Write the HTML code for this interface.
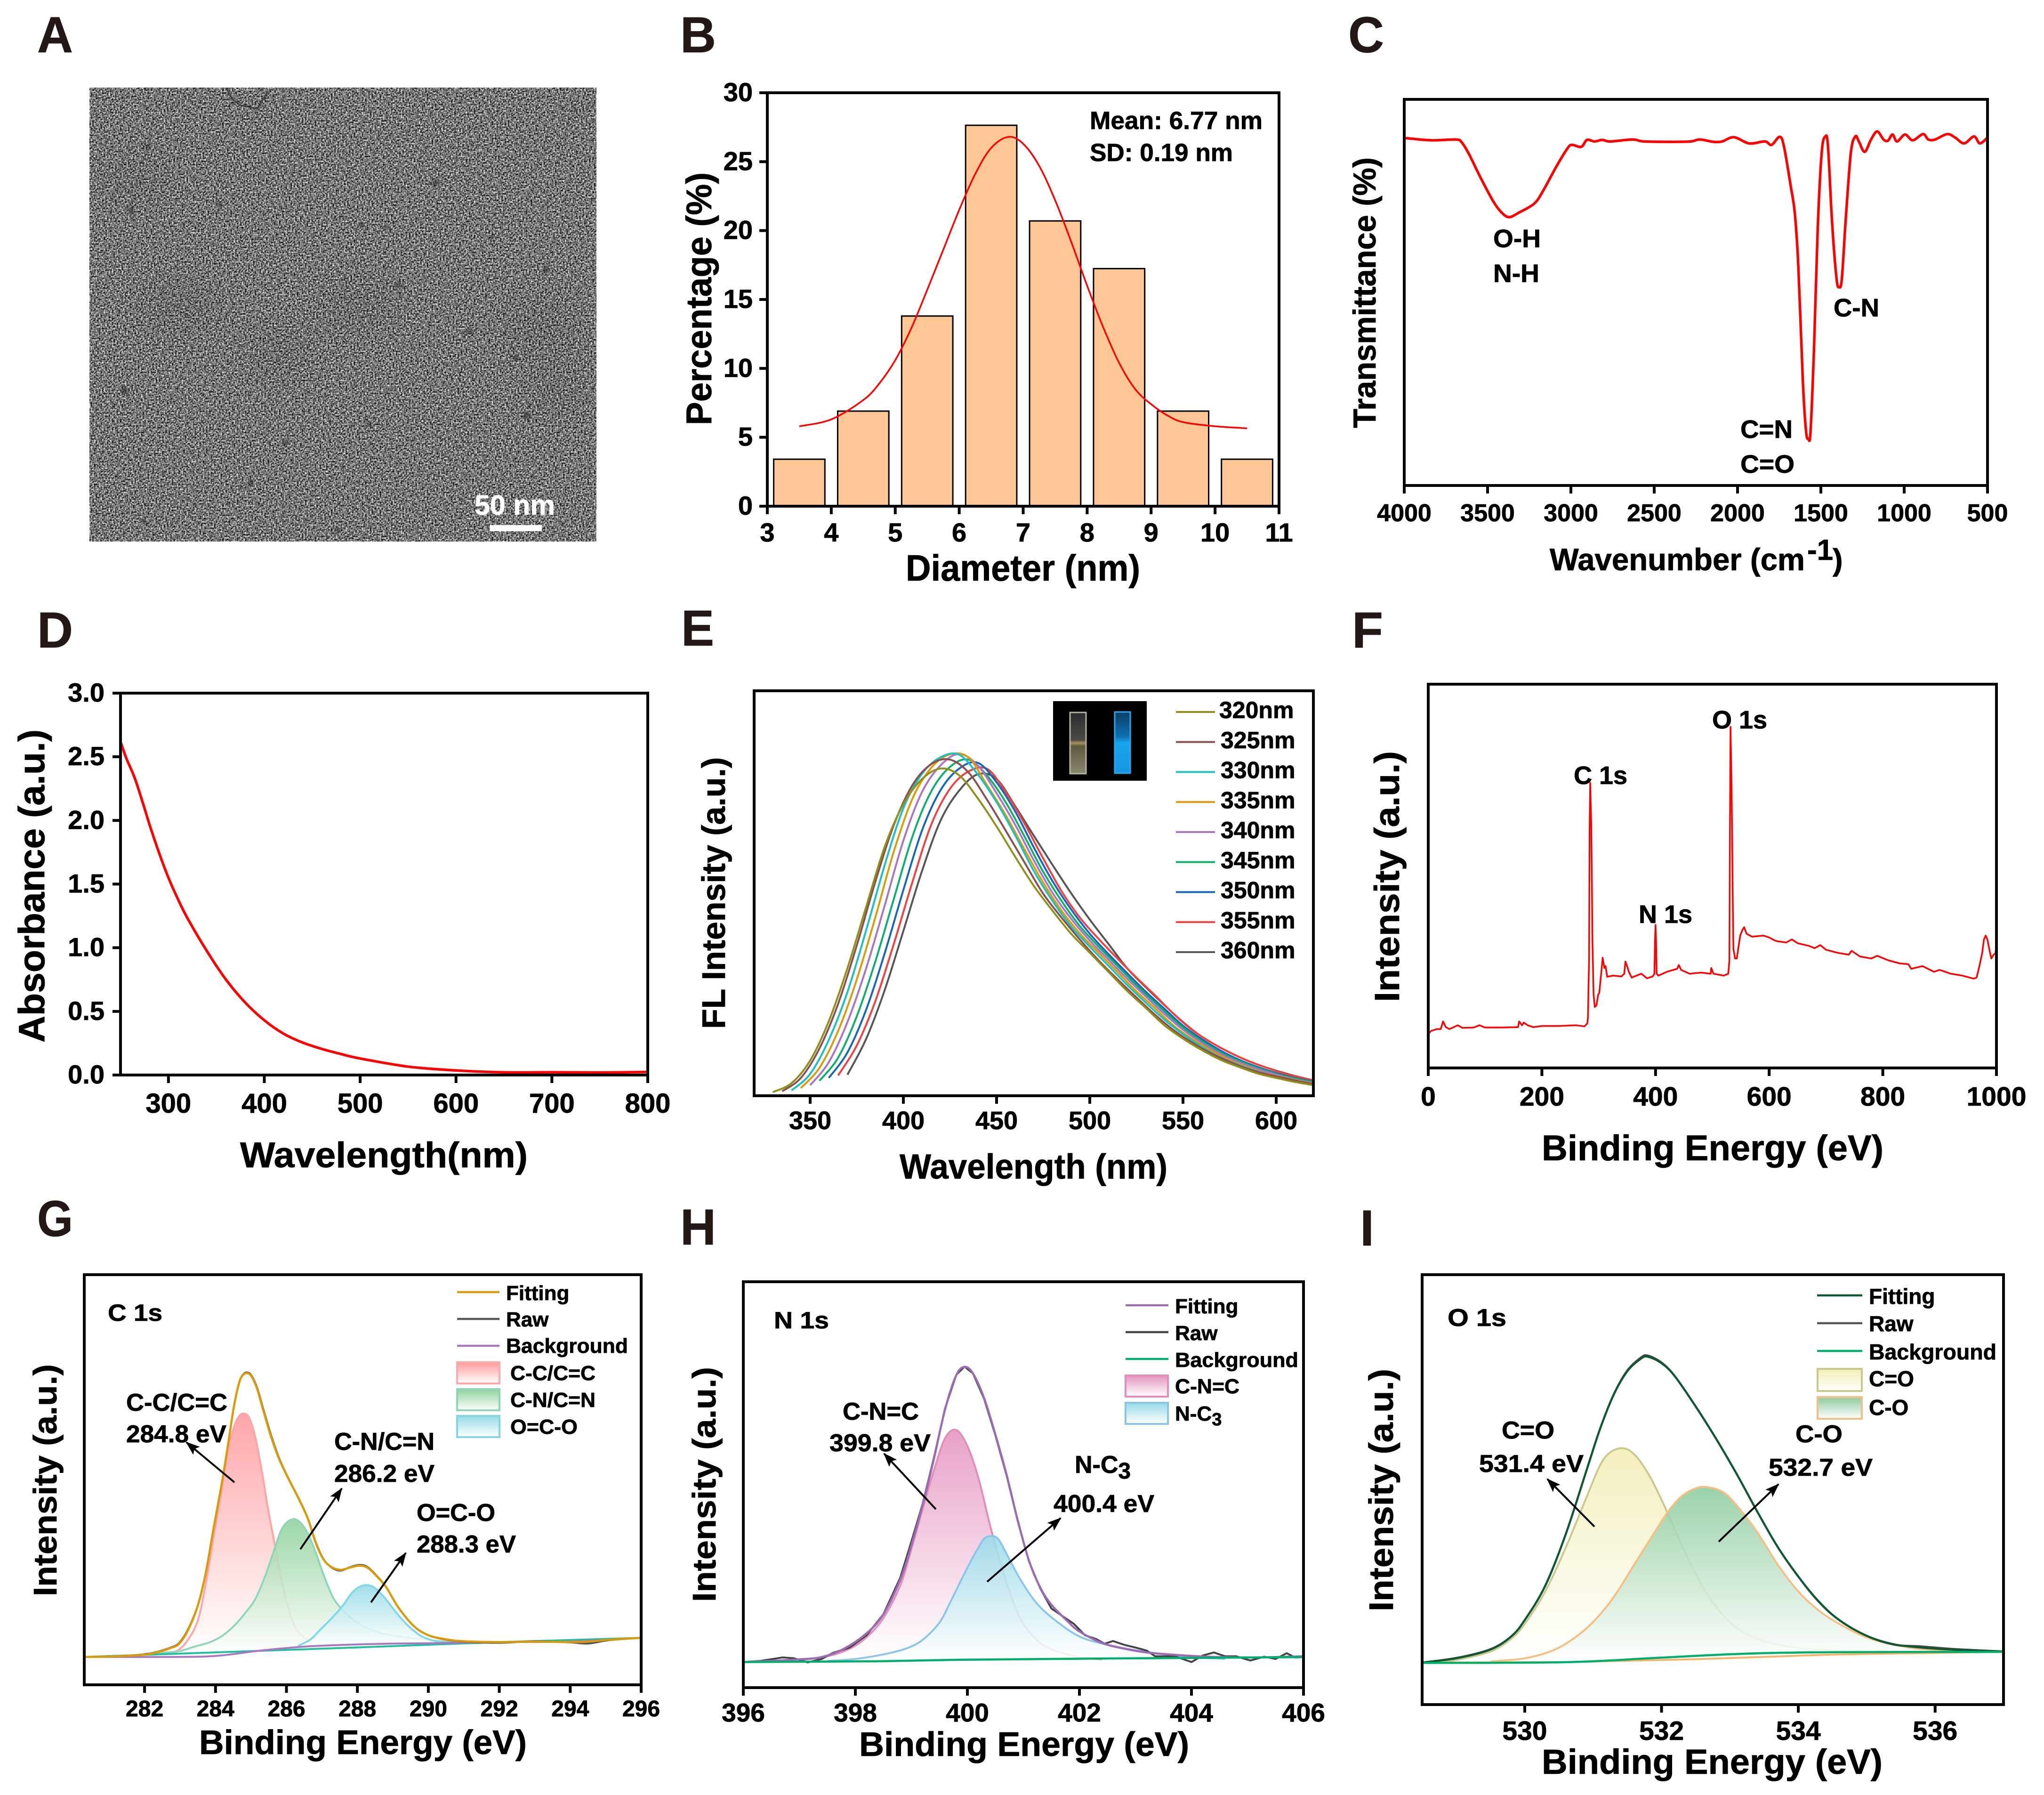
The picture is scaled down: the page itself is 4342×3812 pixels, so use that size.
<!DOCTYPE html>
<html lang="en">
<head>
<meta charset="utf-8">
<title>Carbon dot characterisation figure</title>
<style>
html,body{margin:0;padding:0;background:#fff}
svg{display:block}
text{font-family:"Liberation Sans",sans-serif;font-weight:bold;fill:#000;stroke:#000;stroke-width:.8}
text.panel-letter{font-size:108px;fill:#231815;stroke:#231815}
text.on-image{fill:#fff;stroke:#fff}
.frame{fill:none;stroke:#000;stroke-width:6}
.legend-line{stroke-width:4.5;fill:none}
.swatch{stroke-width:4}
.arrow-line{stroke:#000;stroke-width:4;marker-end:url(#arrow)}
</style>
</head>
<body>
<svg id="figure" xmlns="http://www.w3.org/2000/svg" width="4342" height="3812" viewBox="0 0 4342 3812">
<defs>
<marker id="arrow" markerUnits="userSpaceOnUse" markerWidth="30" markerHeight="24" refX="28" refY="12" orient="auto"><path d="M0 1L30 12L0 23L6 12Z" fill="#000"/></marker>
<filter id="tem-noise" x="0" y="0" width="100%" height="100%" color-interpolation-filters="sRGB">
<feTurbulence type="fractalNoise" baseFrequency="0.29" numOctaves="2" seed="4"/>
<feColorMatrix type="matrix" values="1.6 0 0 0 -0.34  1.6 0 0 0 -0.34  1.6 0 0 0 -0.34  0 0 0 0 1"/>
</filter>
<filter id="soft"><feGaussianBlur stdDeviation="2.5"/></filter>
<filter id="softer"><feGaussianBlur stdDeviation="30"/></filter>
<clipPath id="clip-e"><rect x="1602" y="1467" width="1188" height="860"/></clipPath>
<clipPath id="clip-a"><rect x="190" y="186" width="1077" height="964"/></clipPath>
<linearGradient id="g-red" x1="0" y1="0" x2="0" y2="1"><stop offset="0" stop-color="#FF9A9E"/><stop offset="1" stop-color="#fff"/></linearGradient>
<linearGradient id="g-green" x1="0" y1="0" x2="0" y2="1"><stop offset="0" stop-color="#8ED19A"/><stop offset="1" stop-color="#fff"/></linearGradient>
<linearGradient id="g-cyan" x1="0" y1="0" x2="0" y2="1"><stop offset="0" stop-color="#97DBE8"/><stop offset="1" stop-color="#fff"/></linearGradient>
<linearGradient id="g-pink" x1="0" y1="0" x2="0" y2="1"><stop offset="0" stop-color="#E594BF"/><stop offset="1" stop-color="#fff"/></linearGradient>
<linearGradient id="g-yellow" x1="0" y1="0" x2="0" y2="1"><stop offset="0" stop-color="#F2EDB5"/><stop offset="1" stop-color="#fff"/></linearGradient>
<linearGradient id="g-emerald" x1="0" y1="0" x2="0" y2="1"><stop offset="0" stop-color="#8CCB9E"/><stop offset="1" stop-color="#fff"/></linearGradient>
<linearGradient id="cuvette-blue" x1="0" y1="0" x2="0" y2="1"><stop offset="0" stop-color="#0B3E66"/><stop offset=".4" stop-color="#0E6FB0"/><stop offset=".5" stop-color="#19A3EE"/><stop offset="1" stop-color="#1796E0"/></linearGradient>
<linearGradient id="cuvette-clear" x1="0" y1="0" x2="0" y2="1"><stop offset="0" stop-color="#2C2C2C"/><stop offset=".45" stop-color="#4A4A44"/><stop offset=".5" stop-color="#A8925A"/><stop offset=".55" stop-color="#5C5A3E"/><stop offset="1" stop-color="#8C8770"/></linearGradient>
</defs>

<!-- Panel A: TEM micrograph -->
<g>
<text class="panel-letter" x="79" y="111" textLength="76" lengthAdjust="spacingAndGlyphs">A</text>
<rect x="190" y="186" width="1077" height="964" fill="#777" filter="url(#tem-noise)"/>
<g fill="#000" opacity=".06" filter="url(#softer)" clip-path="url(#clip-a)">
<ellipse cx="380" cy="650" rx="80" ry="60"/><ellipse cx="590" cy="750" rx="70" ry="50"/><ellipse cx="760" cy="650" rx="80" ry="50"/><ellipse cx="1150" cy="700" rx="80" ry="60"/><ellipse cx="290" cy="380" rx="70" ry="40"/><ellipse cx="1180" cy="830" rx="60" ry="50"/>
</g>
<g fill="#222" filter="url(#soft)" opacity=".5">
<circle cx="314" cy="312" r="6"/><circle cx="467" cy="435" r="6"/><circle cx="279" cy="447" r="7"/><circle cx="769" cy="478" r="6"/><circle cx="818" cy="482" r="5"/><circle cx="846" cy="606" r="7"/><circle cx="999" cy="703" r="7"/><circle cx="1160" cy="573" r="7"/><circle cx="925" cy="387" r="7"/><circle cx="784" cy="901" r="6"/><circle cx="532" cy="1027" r="6"/><circle cx="606" cy="940" r="6"/><circle cx="1096" cy="760" r="6"/><circle cx="1045" cy="502" r="5"/><circle cx="1222" cy="236" r="5"/><circle cx="1119" cy="883" r="8"/><circle cx="264" cy="830" r="8"/><circle cx="305" cy="1106" r="5"/><circle cx="717" cy="1126" r="6"/>
</g>
<path d="M481 188L495 212L509 223L546 231L569 194" fill="none" stroke="#333" stroke-width="3.5" opacity=".8"/>
<text class="on-image" x="1008" y="1093" font-size="59" textLength="171" lengthAdjust="spacingAndGlyphs">50 nm</text>
<rect x="1040" y="1115" width="111" height="13" fill="#fff"/>
</g>

<!-- Panel B -->
<g>
<text class="panel-letter" x="1445" y="111" textLength="76" lengthAdjust="spacingAndGlyphs">B</text>
<g id="b-marks"></g>
<rect class="frame" x="1630" y="197" width="1087" height="878"/>
<g id="b-axes"></g>
<text x="2315" y="274" font-size="53" textLength="367" lengthAdjust="spacingAndGlyphs">Mean: 6.77 nm</text>
<text x="2315" y="342" font-size="53" textLength="304" lengthAdjust="spacingAndGlyphs">SD: 0.19 nm</text>
<text x="1924" y="1233" font-size="78" textLength="498" lengthAdjust="spacingAndGlyphs">Diameter (nm)</text>
<text transform="translate(1511,903) rotate(-90)" font-size="76" textLength="537" lengthAdjust="spacingAndGlyphs">Percentage (%)</text>
</g>

<!-- Panel C -->
<g>
<text class="panel-letter" x="2864" y="111" textLength="76" lengthAdjust="spacingAndGlyphs">C</text>
<g id="c-marks"></g>
<rect class="frame" x="2983" y="211" width="1239" height="820"/>
<g id="c-axes"></g>
<text x="3172" y="525" font-size="54" textLength="101" lengthAdjust="spacingAndGlyphs">O-H</text>
<text x="3172" y="599" font-size="54" textLength="98" lengthAdjust="spacingAndGlyphs">N-H</text>
<text x="3895" y="672" font-size="54" textLength="97" lengthAdjust="spacingAndGlyphs">C-N</text>
<text x="3697" y="930" font-size="54" textLength="111" lengthAdjust="spacingAndGlyphs">C=N</text>
<text x="3697" y="1004" font-size="54" textLength="115" lengthAdjust="spacingAndGlyphs">C=O</text>
<text x="3292" y="1211" font-size="66" textLength="542" lengthAdjust="spacingAndGlyphs">Wavenumber (cm</text>
<text x="3839" y="1189" font-size="62">-1</text>
<text x="3893" y="1211" font-size="65">)</text>
<text transform="translate(2922,909) rotate(-90)" font-size="68" textLength="575" lengthAdjust="spacingAndGlyphs">Transmittance (%)</text>
</g>

<!-- Panel D -->
<g>
<text class="panel-letter" x="79" y="1375" textLength="76" lengthAdjust="spacingAndGlyphs">D</text>
<g id="d-marks"></g>
<rect class="frame" x="256" y="1472" width="1120" height="811"/>
<g id="d-axes"></g>
<text x="510" y="2479" font-size="76" textLength="611" lengthAdjust="spacingAndGlyphs">Wavelength(nm)</text>
<text transform="translate(94,2214) rotate(-90)" font-size="78" textLength="665" lengthAdjust="spacingAndGlyphs">Absorbance (a.u.)</text>
</g>

<!-- Panel E -->
<g>
<text class="panel-letter" x="1447" y="1371" textLength="70" lengthAdjust="spacingAndGlyphs">E</text>
<g id="e-marks" clip-path="url(#clip-e)"></g>
<rect class="frame" x="1602" y="1467" width="1188" height="860"/>
<g id="e-axes"></g>
<g>
<rect x="2237" y="1489" width="199" height="169" fill="#000"/>
<rect x="2273" y="1513" width="34" height="130" fill="url(#cuvette-clear)" stroke="#B9B2A2" stroke-width="3"/>
<rect x="2368" y="1512" width="33" height="130" fill="url(#cuvette-blue)" stroke="#2AA8E8" stroke-width="3"/>
</g>
<g id="e-legend"></g>
<text x="1911" y="2503" font-size="74" textLength="569" lengthAdjust="spacingAndGlyphs">Wavelength (nm)</text>
<text transform="translate(1540,2185) rotate(-90)" font-size="70" textLength="577" lengthAdjust="spacingAndGlyphs">FL Intensity (a.u.)</text>
</g>

<!-- Panel F -->
<g>
<text class="panel-letter" x="2872" y="1375" textLength="66" lengthAdjust="spacingAndGlyphs">F</text>
<g id="f-marks"></g>
<rect class="frame" x="3034" y="1453" width="1207" height="815"/>
<g id="f-axes"></g>
<text x="3343" y="1665" font-size="54" textLength="114" lengthAdjust="spacingAndGlyphs">C 1s</text>
<text x="3637" y="1547" font-size="54" textLength="117" lengthAdjust="spacingAndGlyphs">O 1s</text>
<text x="3481" y="1960" font-size="54" textLength="114" lengthAdjust="spacingAndGlyphs">N 1s</text>
<text x="3275" y="2464" font-size="76" textLength="726" lengthAdjust="spacingAndGlyphs">Binding Energy (eV)</text>
<text transform="translate(2972,2128) rotate(-90)" font-size="74" textLength="533" lengthAdjust="spacingAndGlyphs">Intensity (a.u.)</text>
</g>

<!-- Panel G -->
<g>
<text class="panel-letter" x="79" y="2625" textLength="76" lengthAdjust="spacingAndGlyphs">G</text>
<g id="g-marks"></g>
<rect class="frame" x="179" y="2707" width="1183" height="871"/>
<g id="g-axes"></g>
<text x="229" y="2805" font-size="50" textLength="116" lengthAdjust="spacingAndGlyphs">C 1s</text>
<g>
<line class="legend-line" x1="971" y1="2744" x2="1061" y2="2744" stroke="#D99A0B"/>
<text x="1075" y="2761" font-size="44">Fitting</text>
<line class="legend-line" x1="971" y1="2801" x2="1061" y2="2801" stroke="#555"/>
<text x="1075" y="2817" font-size="44">Raw</text>
<line class="legend-line" x1="971" y1="2858" x2="1061" y2="2858" stroke="#A877C4"/>
<text x="1075" y="2873" font-size="44" textLength="259" lengthAdjust="spacingAndGlyphs">Background</text>
<rect class="swatch" x="971" y="2893" width="90" height="45" fill="url(#g-red)" stroke="#FFA9A9"/>
<text x="1084" y="2931" font-size="44" textLength="181" lengthAdjust="spacingAndGlyphs">C-C/C=C</text>
<rect class="swatch" x="971" y="2950" width="90" height="45" fill="url(#g-green)" stroke="#8FD6B8"/>
<text x="1084" y="2988" font-size="44" textLength="181" lengthAdjust="spacingAndGlyphs">C-N/C=N</text>
<rect class="swatch" x="971" y="3007" width="90" height="45" fill="url(#g-cyan)" stroke="#7FD8E4"/>
<text x="1084" y="3045" font-size="44" textLength="143" lengthAdjust="spacingAndGlyphs">O=C-O</text>
</g>
<text x="268" y="2996" font-size="52" textLength="215" lengthAdjust="spacingAndGlyphs">C-C/C=C</text>
<text x="268" y="3063" font-size="52" textLength="213" lengthAdjust="spacingAndGlyphs">284.8 eV</text>
<text x="710" y="3079" font-size="52" textLength="213" lengthAdjust="spacingAndGlyphs">C-N/C=N</text>
<text x="710" y="3147" font-size="52" textLength="213" lengthAdjust="spacingAndGlyphs">286.2 eV</text>
<text x="885" y="3230" font-size="52" textLength="167" lengthAdjust="spacingAndGlyphs">O=C-O</text>
<text x="885" y="3297" font-size="52" textLength="211" lengthAdjust="spacingAndGlyphs">288.3 eV</text>
<line class="arrow-line" x1="498" y1="3148" x2="396" y2="3063"/>
<line class="arrow-line" x1="638" y1="3290" x2="726" y2="3161"/>
<line class="arrow-line" x1="788" y1="3403" x2="862" y2="3298"/>
<text x="423" y="3725" font-size="72" textLength="696" lengthAdjust="spacingAndGlyphs">Binding Energy (eV)</text>
<text transform="translate(120,3390) rotate(-90)" font-size="70" textLength="493" lengthAdjust="spacingAndGlyphs">Intensity (a.u.)</text>
</g>

<!-- Panel H -->
<g>
<text class="panel-letter" x="1445" y="2643" textLength="76" lengthAdjust="spacingAndGlyphs">H</text>
<g id="h-marks"></g>
<rect class="frame" x="1579" y="2722" width="1190" height="862"/>
<g id="h-axes"></g>
<text x="1644" y="2821" font-size="50" textLength="117" lengthAdjust="spacingAndGlyphs">N 1s</text>
<g>
<line class="legend-line" x1="2391" y1="2772" x2="2482" y2="2772" stroke="#9C6BB5"/>
<text x="2496" y="2789" font-size="44">Fitting</text>
<line class="legend-line" x1="2391" y1="2829" x2="2482" y2="2829" stroke="#444"/>
<text x="2496" y="2846" font-size="44">Raw</text>
<line class="legend-line" x1="2391" y1="2886" x2="2482" y2="2886" stroke="#00AE6C"/>
<text x="2496" y="2903" font-size="44" textLength="262" lengthAdjust="spacingAndGlyphs">Background</text>
<rect class="swatch" x="2391" y="2921" width="90" height="45" fill="url(#g-pink)" stroke="#E28DBB"/>
<text x="2496" y="2959" font-size="44" textLength="137" lengthAdjust="spacingAndGlyphs">C-N=C</text>
<rect class="swatch" x="2391" y="2979" width="90" height="45" fill="url(#g-cyan)" stroke="#8CC4EA"/>
<text x="2496" y="3017" font-size="44">N-C<tspan dy="10" font-size="38">3</tspan></text>
</g>
<text x="1790" y="3015" font-size="52" textLength="162" lengthAdjust="spacingAndGlyphs">C-N=C</text>
<text x="1762" y="3082" font-size="52" textLength="215" lengthAdjust="spacingAndGlyphs">399.8 eV</text>
<text x="2283" y="3128" font-size="52">N-C<tspan dy="12" font-size="48">3</tspan></text>
<text x="2238" y="3211" font-size="52" textLength="214" lengthAdjust="spacingAndGlyphs">400.4 eV</text>
<line class="arrow-line" x1="1988" y1="3205" x2="1878" y2="3087"/>
<line class="arrow-line" x1="2097" y1="3359" x2="2253" y2="3224"/>
<text x="1825" y="3729" font-size="72" textLength="701" lengthAdjust="spacingAndGlyphs">Binding Energy (eV)</text>
<text transform="translate(1520,3402) rotate(-90)" font-size="70" textLength="499" lengthAdjust="spacingAndGlyphs">Intensity (a.u.)</text>
</g>

<!-- Panel I -->
<g>
<text class="panel-letter" x="2889" y="2645" textLength="30" lengthAdjust="spacingAndGlyphs">I</text>
<g id="i-marks"></g>
<rect class="frame" x="3021" y="2707" width="1235" height="913"/>
<g id="i-axes"></g>
<text x="3075" y="2816" font-size="52" textLength="125" lengthAdjust="spacingAndGlyphs">O 1s</text>
<g>
<line class="legend-line" x1="3860" y1="2751" x2="3956" y2="2751" stroke="#0B5A32"/>
<text x="3970" y="2769" font-size="46">Fitting</text>
<line class="legend-line" x1="3860" y1="2810" x2="3956" y2="2810" stroke="#555"/>
<text x="3970" y="2827" font-size="46">Raw</text>
<line class="legend-line" x1="3860" y1="2869" x2="3956" y2="2869" stroke="#00AE6C"/>
<text x="3970" y="2887" font-size="46" textLength="271" lengthAdjust="spacingAndGlyphs">Background</text>
<rect class="swatch" x="3861" y="2907" width="94" height="47" fill="url(#g-yellow)" stroke="#CBC88E"/>
<text x="3970" y="2944" font-size="46">C=O</text>
<rect class="swatch" x="3861" y="2967" width="94" height="46" fill="url(#g-emerald)" stroke="#F6BE83"/>
<text x="3970" y="3005" font-size="46">C-O</text>
</g>
<text x="3190" y="3055" font-size="52" textLength="112" lengthAdjust="spacingAndGlyphs">C=O</text>
<text x="3142" y="3126" font-size="52" textLength="222" lengthAdjust="spacingAndGlyphs">531.4 eV</text>
<text x="3814" y="3063" font-size="52" textLength="100" lengthAdjust="spacingAndGlyphs">C-O</text>
<text x="3757" y="3134" font-size="52" textLength="221" lengthAdjust="spacingAndGlyphs">532.7 eV</text>
<line class="arrow-line" x1="3387" y1="3242" x2="3287" y2="3141"/>
<line class="arrow-line" x1="3651" y1="3274" x2="3778" y2="3152"/>
<text x="3275" y="3767" font-size="74" textLength="724" lengthAdjust="spacingAndGlyphs">Binding Energy (eV)</text>
<text transform="translate(2959,3422) rotate(-90)" font-size="72" textLength="515" lengthAdjust="spacingAndGlyphs">Intensity (a.u.)</text>
</g>
</svg>

<script>
/* ---------- Panel B ---------- */
const sizeBins = [3.5,4.5,5.5,6.5,7.5,8.5,9.5,10.5];
const sizePercent = [3.41,6.9,13.8,27.64,20.7,17.24,6.9,3.41];
const sizeFitD = [3.5,4,4.5,4.75,5,5.25,5.5,5.75,6,6.25,6.5,6.77,7,7.25,7.5,7.75,8,8.25,8.5,8.75,9,9.25,9.5,10,10.5];
const sizeFitP = [5.8,6.3,7.7,8.9,10.6,12.9,15.7,18.6,21.5,24.1,26,26.8,26.3,24.7,22.2,19.2,16,13,10.4,8.5,7.4,6.6,6.1,5.8,5.65];
const bXTicks = [3,4,5,6,7,8,9,10,11];
const bYTicks = [0,5,10,15,20,25,30];

/* ---------- Panel C ---------- */
const ftirWave = [4000,3839,3691,3656,3610,3543,3462,3409,3368,3315,3220,3167,3086,3019,2992,2938,2903,2858,2812,2764,2629,2562,2387,2280,2226,2145,2092,2022,1930,1836,1796,1747,1721,1680,1656,1635,1608,1589,1575,1562,1540,1519,1495,1473,1457,1433,1406,1390,1374,1350,1320,1293,1272,1237,1199,1162,1124,1097,1070,1043,995,949,887,855,815,742,694,640,581,546,500];
const ftirT = [90,89.4,89.6,88.9,85.7,79.8,73.3,70.4,69.5,70.6,73,76.3,82.7,87.4,88.2,87.7,89.5,89.1,89.5,89.1,89.6,89.1,89,89.1,89.6,89,89.1,90.2,88.6,89.1,88.2,90.3,87.7,77.3,70.4,56.6,26.9,14.1,12.1,14.1,36.8,66.4,86.2,90.4,87.7,68.4,53.6,51.4,53.6,69.4,86.2,90.4,89.1,86.4,89.6,91.7,89.6,89.3,90.9,89.1,90.9,89.4,91,89.6,89.6,91,90.1,88.6,90.4,88.6,90.1];
const cXTicks = [4000,3500,3000,2500,2000,1500,1000,500];

/* ---------- Panel D ---------- */
const absWave = [250,256,265,274,281,290,300,310,320,340,360,380,400,420,440,460,480,500,550,600,650,700,750,800];
const absValue = [2.62,2.49,2.33,2.12,1.95,1.75,1.55,1.38,1.23,0.975,0.75,0.57,0.43,0.325,0.255,0.205,0.165,0.13,0.066,0.036,0.021,0.022,0.02,0.024];
const dXTicks = [300,400,500,600,700,800];
const dYTicks = [0,0.5,1,1.5,2,2.5,3];
const dYLabels = ['0.0','0.5','1.0','1.5','2.0','2.5','3.0'];

/* ---------- Panel E ---------- */
const flExcitation = ['320nm','325nm','330nm','335nm','340nm','345nm','350nm','355nm','360nm'];
const flStarts = [330,335,340,345,350,355,360,365,370];
const flStep = 10;
const fl320 = [0.9,3.1,8.7,18.4,31.5,46.6,61.5,72,78.2,80.8,79.1,73.4,66.5,59,51.8,45.7,40,35.3,30.6,25.9,21.7,17.4,14.1,11.3,8.9,7.1,5.5,4.4,3.4,2.6];
const fl325 = [1.1,4.4,11.7,22.7,37.1,52.9,67,76.8,81.9,83,79.8,73,65.4,57.6,49.9,43.9,38.4,33.3,28.7,24.3,20,16.2,13.1,10.5,8.4,6.6,5.3,4.3,3.3,2.6];
const fl330 = [1.3,5.4,13.8,25.6,40.8,57,71,79.5,83.6,84.2,79.3,72.5,64.3,55.5,48.1,41.8,36.8,32.1,27.4,23,18.8,15.2,12.1,9.5,7.6,6,4.7,3.7,2.9];
const fl335 = [1.9,6.9,16,28.7,44.1,60.5,73.5,81,84.3,83.5,76.6,69.2,60.8,52.6,45.6,39.9,35.2,30.5,25.8,21.6,17.3,14,11.2,8.8,7,5.4,4.4,3.4,2.7];
const fl340 = [2.6,8.3,18.2,31.4,47,63,75,81.6,84.4,81.5,74.7,66.9,58.1,50.1,43.7,38.3,33.6,28.9,24.5,20.2,16.3,13.1,10.4,8.3,6.6,5.2,4,3.1];
const fl345 = [3.7,9.4,19.6,33.2,48.8,64.2,75.2,81.2,83,79,72.4,64,55.3,48,41.7,36.7,32,27.3,23,18.8,15.1,12.1,9.6,7.7,6.1,4.8,3.8,3];
const fl350 = [4.4,10.7,21.2,35.2,50.8,65.5,75.5,80.8,82.2,77.4,70.2,61.3,53,46,40,35,30.3,25.7,21.5,17.3,14,11.2,8.9,7.1,5.6,4.4,3.5];
const fl355 = [5,12.4,23.4,37.7,53,67,75.8,80.1,80.7,74.9,67.2,58.6,50.4,43.8,38.6,33.8,29.2,24.8,20.2,16.2,13.2,10.7,8.6,6.9,5.4,4.3,3.4];
const fl360 = [5.2,14,26.1,40.7,55.5,68,75.4,79.4,78.2,71.5,64.2,57,50,43.5,37.5,31.5,26.8,22.4,18.2,14.6,11.9,9.6,7.7,6.2,4.9,3.8];
const flSeries = [fl320,fl325,fl330,fl335,fl340,fl345,fl350,fl355,fl360];
const eXTicks = [350,400,450,500,550,600];
const flPalette = ['#8F8F1B','#8A4F4F','#1DBFC4','#D99B0B','#A875C4','#10AE6A','#1566B8','#F0403F','#555555'];

/* ---------- Panel F ---------- */
const surveyEnergy = [0,5,15,22,26,31,37,45,52,60,80,90,100,130,158,160,165,168,175,185,200,230,260,275,280,281,283,284,285,287,289,291,293,296,299,301,304,307,310,312,315,325,340,345,347,350,353,358,375,385,395,398,399,400,401,402,405,420,438,441,445,460,480,497,498,502,520,528,530,531,532,534,536,537,540,543,546,549,553,556,560,570,590,600,610,615,630,640,650,670,680,690,700,720,740,745,760,780,790,810,830,845,850,870,890,900,920,940,960,965,970,975,978,981,984,988,991,995,998,1000];
const surveyIntensity = [89,97,102,102,122,107,102,107,112,105,106,112,106,106,107,122,112,119,112,107,110,110,112,109,117,132,282,632,747,632,332,192,160,164,192,197,242,289,262,267,239,242,240,247,279,267,252,237,247,235,240,247,332,375,332,247,242,252,260,270,257,247,250,247,262,247,242,247,282,632,894,732,432,312,287,287,317,347,362,369,352,344,347,342,334,332,329,337,327,320,314,322,310,302,297,307,292,287,294,282,274,272,260,267,252,257,247,242,234,237,267,302,337,347,337,307,287,297,300,320];
const fXTicks = [0,200,400,600,800,1000];

/* ---------- Panel G ---------- */
const c1sEnergy = [280.3,281,282,282.5,282.75,282.97,283.23,283.5,283.72,283.94,284.16,284.34,284.52,284.67,284.78,284.9,285.02,285.18,285.36,285.58,285.8,286.06,286.33,286.6,286.82,287.04,287.26,287.52,287.79,288.05,288.28,288.54,288.81,289.16,289.6,290,290.45,291,292,293,294,294.5,295.1,296];
const c1sFit = [73,74,79,89,97,107,144,207,290,407,519,621,729,792,812,816,807,773,714,646,590,539,490,436,373,329,309,301,307,312,307,285,256,202,153,130,120,114,112,113,112,113,118,123];
const c1sRaw = [73,74,80,90,98,109,146,208,291,406,518,620,729,792,813,818,809,776,718,650,592,540,491,437,375,330,308,299,308,314,309,286,256,202,153,130,119,113,110,114,111,108,117,123];
const c1sPeakCCEnergy = [282.7,282.97,283.23,283.5,283.72,283.94,284.16,284.34,284.52,284.67,284.82,284.96,285.13,285.31,285.49,285.67,285.84,286.02,286.24,286.5,286.77,287.13];
const c1sPeakCC = [82,92,119,168,261,383,504,607,675,704,710,697,646,558,456,368,285,212,153,124,112,105];
const c1sPeakCNEnergy = [282,282.5,282.97,283.41,283.85,284.2,284.56,284.87,285.13,285.4,285.62,285.84,286.02,286.22,286.4,286.6,286.82,287.04,287.3,287.57,287.92,288.28,288.72,289.16,289.6,290.2,290.9];
const c1sPeakCN = [81,84,88,100,112,129,158,192,226,285,344,402,426,434,424,397,348,290,231,197,168,148,134,127,122,115,110];
const c1sPeakOCOEnergy = [286.33,286.68,286.95,287.26,287.57,287.83,288.05,288.28,288.5,288.76,289.07,289.34,289.6,289.85,290.25,290.6];
const c1sPeakOCO = [102,119,144,173,205,239,256,261,253,229,192,163,141,125,113,108];
const c1sBgEnergy = [280.3,282.85,284.05,285.3,286.5,287.75,289,290.2,292.05,293.9,296];
const c1sBg = [73,73,76,90,100,105,108,109,112,113,123];
const c1sLinearEnergy = [280.3,287.75,292.05,296];
const c1sLinear = [73,97,112,123];
const gXTicks = [282,284,286,288,290,292,294,296];

/* ---------- Panel H ---------- */
const n1sEnergy = [396,396.5,397,397.4,397.8,398.2,398.5,398.8,399,399.2,399.4,399.6,399.8,399.95,400.1,400.3,400.5,400.7,400.9,401.1,401.3,401.5,401.8,402,402.4,402.8,403.2,403.6,404,404.5,405,405.5,406];
const n1sFit = [67,70,74,80,102,142,192,282,372,477,597,727,817,839,822,757,662,557,437,332,262,217,172,147,117,102,92,87,83,80,79,80,82];
const n1sRawEnergy = [396,396.3,396.7,396.9,397.15,397.4,397.6,397.9,398.2,398.5,398.8,399,399.2,399.4,399.6,399.8,399.95,400.1,400.3,400.5,400.7,400.9,401.1,401.3,401.5,401.9,402.1,402.3,402.45,402.6,402.8,403,403.2,403.35,403.7,404,404.2,404.4,404.6,404.8,405.05,405.3,405.5,405.7,405.85,406];
const n1sRaw = [67,70,79,77,66,75,91,105,137,192,287,382,480,600,730,818,840,822,755,660,555,435,330,260,207,167,137,127,115,122,112,105,97,82,82,67,84,92,82,82,71,81,75,90,79,80];
const n1sPeakCNCEnergy = [397,397.5,397.9,398.2,398.5,398.8,399,399.2,399.4,399.6,399.8,400,400.2,400.4,400.6,400.8,401,401.3,401.6,402,402.4];
const n1sPeakCNC = [72,82,102,132,182,267,362,467,567,652,674,632,547,427,322,232,167,117,95,80,74];
const n1sPeakNC3Energy = [397.5,398,398.5,398.9,399.2,399.5,399.7,399.9,400.1,400.2,400.3,400.44,400.56,400.7,400.95,401.26,401.65,402.03,402.5,403.05,403.82,404.6];
const n1sPeakNC3 = [70,75,87,102,125,170,225,285,342,367,390,397,387,350,282,217,167,132,112,97,82,75];
const n1sBgEnergy = [396,398.4,399.9,402.3,406];
const n1sBg = [67,69,73,76,80];
const hXTicks = [396,398,400,402,404,406];

/* ---------- Panel I ---------- */
const o1sEnergy = [528.5,529,529.5,529.8,530,530.3,530.6,530.9,531.1,531.3,531.5,531.7,531.8,532,532.2,532.5,532.8,533.1,533.4,533.7,534,534.3,534.6,535,535.4,535.8,536.3,537];
const o1sFit = [110,121,144,178,221,311,446,611,721,810,872,905,910,893,858,780,695,603,505,412,335,270,221,180,158,149,143,139];
const o1sRaw = [110,122,145,178,221,311,446,611,721,811,874,908,913,895,858,780,695,603,505,412,335,269,221,180,157,152,145,139];
const o1sPeakCdOEnergy = [528.7,529,529.5,529.8,530,530.3,530.6,530.9,531.1,531.25,531.43,531.6,531.8,532,532.2,532.5,532.8,533.1,533.5,534,534.5,535.5];
const o1sPeakCdO = [112,117,139,172,211,296,411,541,626,660,671,655,606,536,456,341,256,201,166,148,142,139];
const o1sPeakCOEnergy = [529.5,530,530.4,530.7,531,531.3,531.6,531.9,532.1,532.3,532.5,532.67,532.9,533.1,533.4,533.7,534,534.3,534.6,535,535.5,536,537];
const o1sPeakCO = [113,121,141,171,216,281,366,451,506,546,566,569,556,521,451,366,296,246,211,176,153,143,139];
const o1sBgEnergy = [528.5,530.6,531.9,533.2,534.5,537];
const o1sBg = [109,111,122,133,137,138];
const o1sLinearEnergy = [528.5,530.6,532.55,534.5,537];
const o1sLinear = [110,111,119,131,138];
const iXTicks = [530,532,534,536];

/* ---------- Drawing helpers ---------- */
const NS = 'http://www.w3.org/2000/svg';
function linear(d0, d1, r0, r1) {
  return function (v) { return r0 + (v - d0) * (r1 - r0) / (d1 - d0); };
}
function add(parent, tag) {
  const n = document.createElementNS(NS, tag);
  parent.appendChild(n);
  return n;
}
function group(id) { return document.getElementById(id); }
function pathData(xs, ys, sx, sy, smooth) {
  const p = xs.map(function (x, i) { return [sx(x), sy(ys[i])]; });
  let d = 'M' + p[0][0].toFixed(1) + ' ' + p[0][1].toFixed(1);
  for (let i = 1; i < p.length; i++) {
    if (!smooth) { d += 'L' + p[i][0].toFixed(1) + ' ' + p[i][1].toFixed(1); continue; }
    const a = p[Math.max(0, i - 2)], b = p[i - 1], c = p[i], e = p[Math.min(p.length - 1, i + 1)];
    const c1 = [b[0] + (c[0] - a[0]) / 6, b[1] + (c[1] - a[1]) / 6];
    const c2 = [c[0] - (e[0] - b[0]) / 6, c[1] - (e[1] - b[1]) / 6];
    d += 'C' + c1[0].toFixed(1) + ' ' + c1[1].toFixed(1) + ' ' + c2[0].toFixed(1) + ' ' + c2[1].toFixed(1) + ' ' + c[0].toFixed(1) + ' ' + c[1].toFixed(1);
  }
  return d;
}
function drawCurve(parent, xs, ys, sx, sy, color, width, smooth) {
  const p = add(parent, 'path');
  p.setAttribute('d', pathData(xs, ys, sx, sy, smooth));
  p.setAttribute('fill', 'none');
  p.setAttribute('stroke', color);
  p.setAttribute('stroke-width', width);
  p.setAttribute('stroke-linejoin', 'round');
  
  return p;
}
function drawPeak(parent, xs, ys, sx, sy, gradient, color, width) {
  const p = drawCurve(parent, xs, ys, sx, sy, color, width, true);
  p.setAttribute('fill', 'url(#' + gradient + ')');
  p.setAttribute('fill-opacity', '0.88');
  return p;
}
function drawXTicks(parent, ticks, labels, sx, axisY, baseline, size) {
  ticks.forEach(function (v, i) {
    const t = add(parent, 'line');
    
    
    t.setAttribute('x1', sx(v));
    t.setAttribute('x2', sx(v));
    t.setAttribute('y1', axisY);
    t.setAttribute('y2', axisY + 17);
    t.setAttribute('stroke', '#000');
    t.setAttribute('stroke-width', 6);
    const l = add(parent, 'text');
    
    
    l.setAttribute('x', sx(v));
    l.setAttribute('y', baseline);
    l.setAttribute('font-size', size);
    l.setAttribute('text-anchor', 'middle');
    l.textContent = labels[i];
  });
}
function drawYTicks(parent, ticks, labels, sy, axisX, labelX, size) {
  ticks.forEach(function (v, i) {
    const t = add(parent, 'line');
    
    
    t.setAttribute('x1', axisX - 17);
    t.setAttribute('x2', axisX);
    t.setAttribute('y1', sy(v));
    t.setAttribute('y2', sy(v));
    t.setAttribute('stroke', '#000');
    t.setAttribute('stroke-width', 6);
    const l = add(parent, 'text');
    
    
    l.setAttribute('x', labelX);
    l.setAttribute('y', sy(v) + size * 0.32);
    l.setAttribute('font-size', size);
    l.setAttribute('text-anchor', 'end');
    l.textContent = labels[i];
  });
}

/* ---------- Panel B render ---------- */
(function () {
  const sx = linear(3, 11, 1630, 2717);
  const sy = linear(0, 30, 1075, 197);
  const marks = group('b-marks');
  sizeBins.forEach(function (c, i) {
    const bar = add(marks, 'rect');
    
    
    bar.setAttribute('x', sx(c - 0.4));
    bar.setAttribute('width', sx(c + 0.4) - sx(c - 0.4));
    bar.setAttribute('y', sy(sizePercent[i]));
    bar.setAttribute('height', sy(0) - sy(sizePercent[i]));
    bar.setAttribute('fill', '#FFC796');
    bar.setAttribute('stroke', '#000');
    bar.setAttribute('stroke-width', 3);
  });
  const fit = drawCurve(marks, sizeFitD, sizeFitP, sx, sy, '#FF0000', 3.5, true);
  
  const axes = group('b-axes');
  drawXTicks(axes, bXTicks, bXTicks.map(String), sx, 1075, 1150, 56);
  drawYTicks(axes, bYTicks, bYTicks.map(String), sy, 1630, 1599, 56);
})();

/* ---------- Panel C render ---------- */
(function () {
  const sx = linear(4000, 500, 2983, 4222);
  const sy = linear(0, 100, 1031, 211);
  const line = drawCurve(group('c-marks'), ftirWave, ftirT, sx, sy, '#FF0000', 5.5, true);
  
  drawXTicks(group('c-axes'), cXTicks, cXTicks.map(String), sx, 1031, 1107, 52);
})();

/* ---------- Panel D render ---------- */
(function () {
  const sx = linear(250, 800, 256, 1376);
  const sy = linear(0, 3, 2283, 1472);
  const line = drawCurve(group('d-marks'), absWave, absValue, sx, sy, '#FF0000', 5.5, true);
  
  const axes = group('d-axes');
  drawXTicks(axes, dXTicks, dXTicks.map(String), sx, 2283, 2363, 58);
  drawYTicks(axes, dYTicks, dYLabels, sy, 256, 222, 56);
})();

/* ---------- Panel E render ---------- */
(function () {
  const sx = linear(350, 600, 1721, 2711);
  const sy = linear(0, 100, 2327, 1467);
  const marks = group('e-marks');
  for (let i = flSeries.length - 1; i >= 0; i--) {
    const xs = flSeries[i].map(function (_, k) { return flStarts[i] + k * flStep; });
    const line = drawCurve(marks, xs, flSeries[i], sx, sy, flPalette[i], 4, true);
    
  }
  drawXTicks(group('e-axes'), eXTicks, eXTicks.map(String), sx, 2327, 2398, 54);
  const legend = group('e-legend');
  flExcitation.forEach(function (label, i) {
    const rowY = 1512 + i * 63.75;
    const key = add(legend, 'line');
    
    
    key.setAttribute('x1', 2498);
    key.setAttribute('x2', 2581);
    key.setAttribute('y1', rowY);
    key.setAttribute('y2', rowY);
    key.setAttribute('stroke', flPalette[i]);
    key.setAttribute('stroke-width', 4);
    const text = add(legend, 'text');
    
    
    text.setAttribute('x', i === 0 ? 2590 : 2593);
    text.setAttribute('y', rowY + 13);
    text.setAttribute('font-size', 50);
    text.textContent = label;
  });
})();

/* ---------- Panel F render ---------- */
(function () {
  const sx = linear(0, 1000, 3034, 4241);
  const sy = linear(0, 1006, 2268, 1453);
  const line = drawCurve(group('f-marks'), surveyEnergy, surveyIntensity, sx, sy, '#FF0000', 3.5, false);
  
  drawXTicks(group('f-axes'), fXTicks, fXTicks.map(String), sx, 2268, 2348, 57);
})();

/* ---------- Panel G render ---------- */
(function () {
  const sx = linear(280.3, 296, 179, 1362);
  const sy = linear(0, 1074, 3578, 2707);
  const m = group('g-marks');
  const p1 = drawPeak(m, c1sPeakCCEnergy, c1sPeakCC, sx, sy, 'g-red', '#FFA5A5', 4);
  
  const p2 = drawPeak(m, c1sPeakCNEnergy, c1sPeakCN, sx, sy, 'g-green', '#8FD6B8', 4);
  
  const p3 = drawPeak(m, c1sPeakOCOEnergy, c1sPeakOCO, sx, sy, 'g-cyan', '#7FD8E4', 4);
  
  const lin = drawCurve(m, c1sLinearEnergy, c1sLinear, sx, sy, '#1FBF9F', 4, false);
  
  const bg = drawCurve(m, c1sBgEnergy, c1sBg, sx, sy, '#A877C4', 4, true);
  
  const raw = drawCurve(m, c1sEnergy, c1sRaw, sx, sy, '#555555', 4, true);
  
  const fit = drawCurve(m, c1sEnergy, c1sFit, sx, sy, '#D99A0B', 4.5, true);
  
  drawXTicks(group('g-axes'), gXTicks, gXTicks.map(String), sx, 3578, 3645, 48);
})();

/* ---------- Panel H render ---------- */
(function () {
  const sx = linear(396, 406, 1579, 2769);
  const sy = linear(0, 1062, 3584, 2722);
  const m = group('h-marks');
  const p1 = drawPeak(m, n1sPeakCNCEnergy, n1sPeakCNC, sx, sy, 'g-pink', '#E28DBB', 4);
  
  const p2 = drawPeak(m, n1sPeakNC3Energy, n1sPeakNC3, sx, sy, 'g-cyan', '#8CC4EA', 4);
  
  const raw = drawCurve(m, n1sRawEnergy, n1sRaw, sx, sy, '#444444', 4, false);
  
  const fit = drawCurve(m, n1sEnergy, n1sFit, sx, sy, '#9C6BB5', 4.5, true);
  
  const bg = drawCurve(m, n1sBgEnergy, n1sBg, sx, sy, '#00AE6C', 4.5, false);
  
  drawXTicks(group('h-axes'), hXTicks, hXTicks.map(String), sx, 3584, 3656, 55);
})();

/* ---------- Panel I render ---------- */
(function () {
  const sx = linear(528.5, 537, 3021, 4256);
  const sy = linear(0, 1125, 3620, 2707);
  const m = group('i-marks');
  const p1 = drawPeak(m, o1sPeakCdOEnergy, o1sPeakCdO, sx, sy, 'g-yellow', '#CBC88E', 4);
  
  const p2 = drawPeak(m, o1sPeakCOEnergy, o1sPeakCO, sx, sy, 'g-emerald', '#F6BE83', 4);
  
  const lin = drawCurve(m, o1sLinearEnergy, o1sLinear, sx, sy, '#F6B26B', 4, false);
  
  const raw = drawCurve(m, o1sEnergy, o1sRaw, sx, sy, '#444444', 4.5, true);
  
  const fit = drawCurve(m, o1sEnergy, o1sFit, sx, sy, '#0B5A32', 4, true);
  
  const bg = drawCurve(m, o1sBgEnergy, o1sBg, sx, sy, '#00AE6C', 4.5, true);
  
  drawXTicks(group('i-axes'), iXTicks, iXTicks.map(String), sx, 3620, 3695, 57);
})();
</script>
</body>
</html>
